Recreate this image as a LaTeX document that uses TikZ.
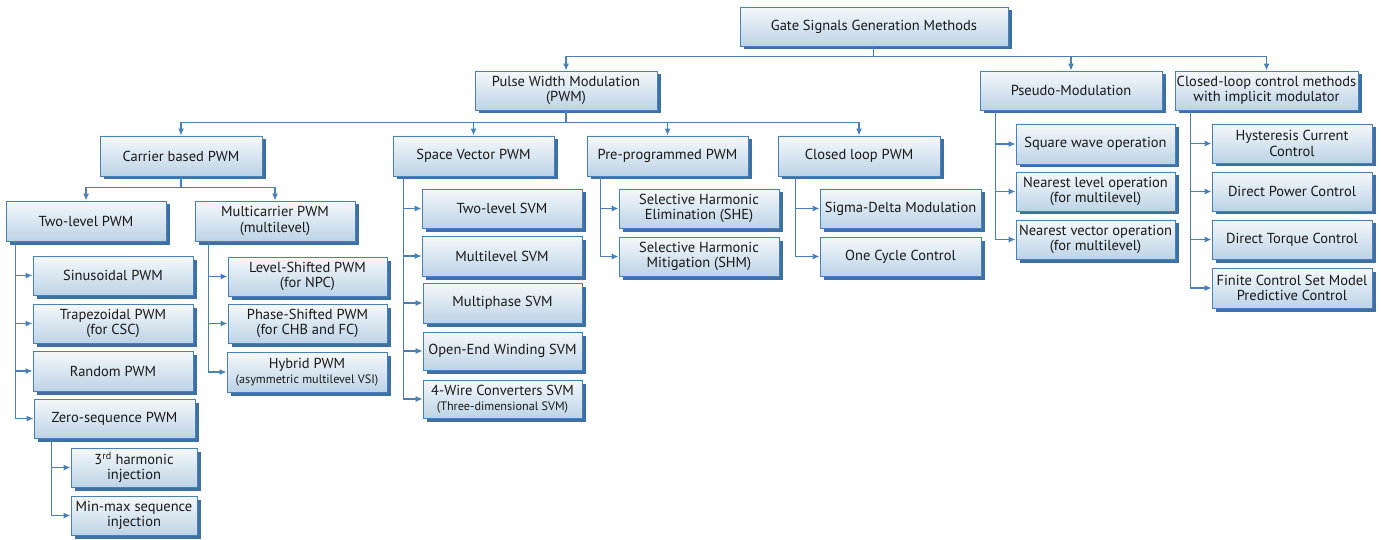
\documentclass[tikz,border=0pt]{standalone}
\usepackage{fontspec}
\setmainfont{PT Sans}
\usetikzlibrary{shadows,arrows.meta}
\definecolor{bordc}{HTML}{4A80B8}
\definecolor{shc}{HTML}{3D70A4}
\definecolor{linec}{HTML}{4A80B8}
\definecolor{topc}{HTML}{F5F8FB}
\definecolor{botc}{HTML}{BCD3E6}
\tikzset{
  box/.style={draw=bordc, line width=0.9pt, top color=topc, bottom color=botc,
    drop shadow={shadow xshift=3.5pt, shadow yshift=-3.5pt, fill=shc, opacity=1},
    align=center, inner sep=0pt, font=\fontsize{14.5}{15.5}\selectfont, text=black!90},
  small/.style={font=\fontsize{12.2}{13}\selectfont},
  conn/.style={draw=linec, line width=1.2pt},
  arr/.style={conn, -{Latex[length=7pt,width=6pt]}}
}
\newcommand\bx[6]{\node[box, minimum width={#4-#2}, minimum height={#5-#3}] (#1) at ({(#2+#4)/2},{(#3+#5)/2}) {#6};}
\newcommand\smalltext[1]{{\fontsize{12.2}{13}\selectfont #1}}
\begin{document}
\begin{tikzpicture}[x=1pt,y=-1pt]
\useasboundingbox (0,0) rectangle (1381,540);
% level 0
\bx{root}{740}{7}{1008}{46}{Gate Signals Generation Methods}
% level 1
\bx{pwm}{475}{71}{657}{110}{Pulse Width Modulation\\(PWM)}
\bx{pseudo}{980}{71}{1162}{110}{Pseudo-Modulation}
\bx{clc}{1175}{71}{1358}{110}{Closed-loop control methods\\with implicit modulator}
% level 2
\bx{carrier}{100}{136}{262}{176}{Carrier based PWM}
\bx{svpwm}{393}{136}{554}{176}{Space Vector PWM}
\bx{prepwm}{587}{136}{748}{176}{Pre-programmed PWM}
\bx{clpwm}{778}{136}{940}{176}{Closed loop PWM}
% carrier children
\bx{twolevel}{6}{201}{166}{241}{Two-level PWM}
\bx{multicar}{195}{201}{355}{241}{Multicarrier PWM\\(multilevel)}
% two-level children
\bx{sinus}{33}{256}{193}{295}{Sinusoidal PWM}
\bx{trap}{33}{304}{193}{343}{Trapezoidal PWM\\(for CSC)}
\bx{random}{33}{351}{193}{391}{Random PWM}
\bx{zeroseq}{34}{399}{195}{438}{Zero-sequence PWM}
\bx{third}{71}{448}{197}{487}{3\textsuperscript{rd} harmonic\\injection}
\bx{minmax}{71}{496}{197}{535}{Min-max sequence\\injection}
% multicarrier children
\bx{lspwm}{228}{257}{387}{296}{Level-Shifted PWM\\(for NPC)}
\bx{pspwm}{228}{304}{387}{343}{Phase-Shifted PWM\\(for CHB and FC)}
\bx{hybrid}{227}{352}{387}{392}{Hybrid PWM\\\smalltext{(asymmetric multilevel VSI)}}
% SVM children
\bx{twosvm}{422}{189}{582}{228}{Two-level SVM}
\bx{multisvm}{422}{236}{582}{276}{Multilevel SVM}
\bx{phasesvm}{423}{283}{582}{323}{Multiphase SVM}
\bx{oewsvm}{423}{332}{582}{370}{Open-End Winding SVM}
\bx{fwsvm}{423}{380}{582}{418}{4-Wire Converters SVM\\\smalltext{(Three-dimensional SVM)}}
% pre-programmed children
\bx{she}{619}{189}{779}{228}{Selective Harmonic\\Elimination (SHE)}
\bx{shm}{619}{237}{779}{276}{Selective Harmonic\\Mitigation (SHM)}
% closed loop PWM children
\bx{sigma}{820}{189}{981}{228}{Sigma-Delta Modulation}
\bx{occ}{820}{237}{981}{276}{One Cycle Control}
% pseudo children
\bx{square}{1016}{124}{1175}{164}{Square wave operation}
\bx{nlevel}{1016}{172}{1175}{211}{Nearest level operation\\(for multilevel)}
\bx{nvector}{1016}{220}{1175}{259}{Nearest vector operation\\(for multilevel)}
% closed-loop control children
\bx{hyst}{1212}{124}{1372}{163}{Hysteresis Current\\Control}
\bx{dpc}{1212}{172}{1372}{211}{Direct Power Control}
\bx{dtc}{1212}{220}{1372}{259}{Direct Torque Control}
\bx{fcs}{1212}{268}{1372}{308}{Finite Control Set Model\\Predictive Control}
% top-down connectors
\foreach \c in {pwm,pseudo,clc}{\draw[arr] ([xshift=-0.5pt]root.south) -- ++(0,10) -| (\c.north);}
\foreach \c in {carrier,svpwm,prepwm,clpwm}{\draw[arr] (pwm.south) -- ++(0,12) -| (\c.north);}
\foreach \c in {twolevel,multicar}{\draw[arr] (carrier.south) -- ++(0,11) -| (\c.north);}
% side connectors
\foreach \c in {sinus,trap,random,zeroseq}{\draw[arr] ([xshift=10pt]twolevel.south west) |- (\c.west);}
\foreach \c in {third,minmax}{\draw[arr] ([xshift=18pt]zeroseq.south west) |- (\c.west);}
\foreach \c in {lspwm,pspwm,hybrid}{\draw[arr] ([xshift=14pt]multicar.south west) |- (\c.west);}
\foreach \c in {twosvm,multisvm,phasesvm,oewsvm,fwsvm}{\draw[arr] ([xshift=11pt]svpwm.south west) |- (\c.west);}
\foreach \c in {she,shm}{\draw[arr] ([xshift=14pt]prepwm.south west) |- (\c.west);}
\foreach \c in {sigma,occ}{\draw[arr] ([xshift=18pt]clpwm.south west) |- (\c.west);}
\foreach \c in {square,nlevel,nvector}{\draw[arr] ([xshift=16pt]pseudo.south west) |- (\c.west);}
\foreach \c in {hyst,dpc,dtc,fcs}{\draw[arr] ([xshift=16pt]clc.south west) |- (\c.west);}
\end{tikzpicture}
\end{document}
